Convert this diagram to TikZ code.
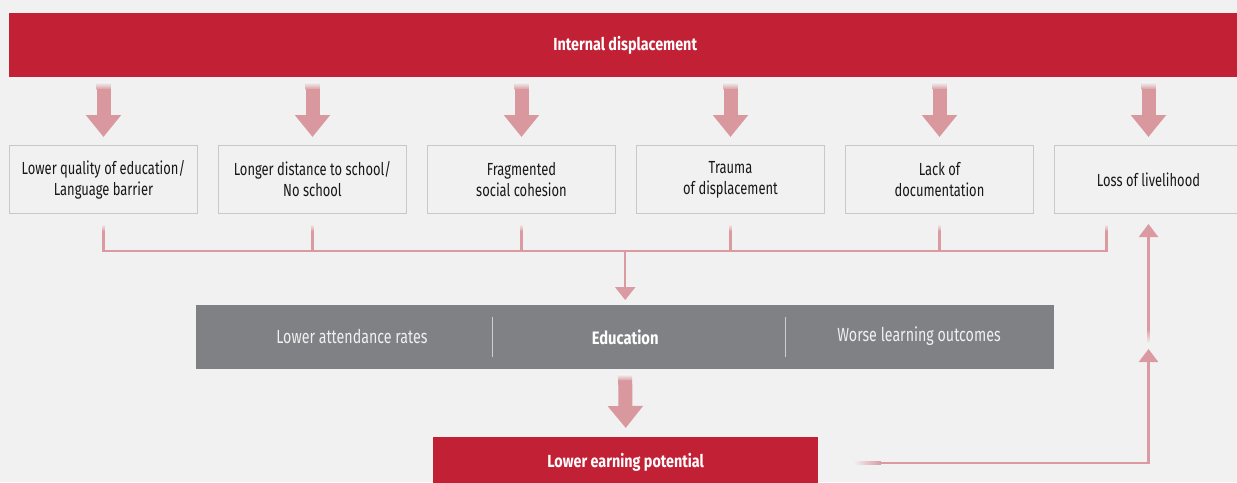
\documentclass[tikz,border=0pt]{standalone}
\usepackage{fontspec}
\setmainfont{Fira Sans}[FakeStretch=0.74]
\newfontfamily\grayfont{Fira Sans}[FakeStretch=0.75]
\newfontfamily\boldfont{Fira Sans}[FakeStretch=0.82]
\usetikzlibrary{arrows.meta,calc}
\definecolor{bg}{HTML}{F1F1F1}
\definecolor{myred}{HTML}{C22035}
\definecolor{mygray}{HTML}{808185}
\definecolor{pinkA}{HTML}{D9979E}
\definecolor{pinkL}{HTML}{DB9AA2}
\definecolor{boxline}{HTML}{C8C8C8}
\definecolor{txt}{HTML}{181818}
\definecolor{ltxt}{HTML}{F0F0F0}
\begin{document}
\begin{tikzpicture}[x=1pt,y=-1pt,
  redbar/.style={fill=myred, inner sep=0pt, anchor=north west},
  redtxt/.style={text=white, font=\boldfont\fontsize{17.5}{20}\selectfont\bfseries, inner sep=0pt},
  causebox/.style={draw=boxline, line width=1pt, fill=bg, text=txt, minimum width=188pt, minimum height=68pt, anchor=north west, align=center, font=\fontsize{17.5}{21}\selectfont, inner sep=0pt},
  graybar/.style={fill=mygray, minimum width=858pt, minimum height=64pt, anchor=north west, inner sep=0pt},
  graytxt/.style={text=ltxt, font=\grayfont\fontsize{19}{22}\selectfont, inner sep=0pt},
  fat/.style={draw=pinkA, line width=14pt, -{Triangle[width=34pt,length=22pt]}},
  conn/.style={draw=pinkL, line width=2.5pt},
  tip/.style={-{Triangle[width=20pt,length=13pt]}},
]
\useasboundingbox (0,0) rectangle (1237,482);
\fill[bg] (0,0) rectangle (1237,482);

% top bar
\node[redbar, minimum width=1232pt, minimum height=64pt] (top) at (9,13) {};
\node[redtxt] (toptxt) at (top.center) {Internal displacement};

% cause boxes
\node[causebox] (b1) at (9,145) {Lower quality of education/\\Language barrier};
\node[causebox] (b2) at (218,145) {Longer distance to school/\\No school};
\node[causebox] (b3) at (427,145) {Fragmented\\social cohesion};
\node[causebox] (b4) at (636,145) {Trauma\\of displacement};
\node[causebox] (b5) at (845,145) {Lack of\\documentation};
\node[causebox] (b6) at (1054,145) {Loss of livelihood};

% fat arrows from top bar
\foreach \b in {b1,b2,b3,b4,b5,b6}{
  \shade[top color=bg, bottom color=pinkA] ($(top.south -| \b.north)+(-7,5)$) rectangle ($(top.south -| \b.north)+(7,12.5)$);
  \draw[fat] ($(top.south -| \b.north)+(0,12)$) -- ($(\b.north)+(0,-8)$);
}

% education bar
\node[graybar] (edu) at (196,305) {};
\node[graytxt] (att) at (352,336) {Lower attendance rates};
\node[graytxt, text=white, font=\boldfont\fontsize{18}{20}\selectfont\bfseries] (edutxt) at (edu.center) {Education};
\node[graytxt] (wlo) at (919,336) {Worse learning outcomes};
\draw[ltxt!70!mygray, line width=1pt] (492,317) -- (492,357);
\draw[ltxt!70!mygray, line width=1pt] (785,317) -- (785,357);

% bottom red box
\node[redbar, minimum width=385pt, minimum height=50pt] (low) at (433,437) {};
\node[redtxt] (lowtxt) at (low.center) {Lower earning potential};

% connectors from boxes
\foreach \b in {b1,b2,b3,b4,b5}{
  \shade[top color=bg, bottom color=pinkL] ($(\b.south)+(-1.25,10)$) rectangle ($(\b.south)+(1.25,17.5)$);
}
\shade[top color=bg, bottom color=pinkL] ($(b6.south)+(-43.25,10)$) rectangle ($(b6.south)+(-40.75,17.5)$);
\draw[conn] ($(b1.south)+(0,17)$) -- ($(b1.south)+(0,37)$) -- ($(b6.south)+(-42,37)$) -- ($(b6.south)+(-42,17)$);
\foreach \b in {b2,b3,b4,b5}{
  \draw[conn] ($(\b.south)+(0,17)$) -- ($(\b.south)+(0,37)$);
}
\draw[conn, tip] ($(edu.north)+(0,-55)$) -- ($(edu.north)+(0,-5)$);

% education to earning
\shade[top color=bg, bottom color=pinkA] ($(edu.south)+(-7,5)$) rectangle ($(edu.south)+(7,11.5)$);
\draw[fat] ($(edu.south)+(0,11)$) -- ($(low.north)+(0,-9)$);

% return line
\shade[left color=bg, right color=pinkL] ($(low.east)+(35,-0.25)$) rectangle ($(low.east)+(62.5,2.25)$);
\draw[conn, -{Triangle[width=19pt,length=13pt]}] ($(low.east)+(62,1)$) -| ($(b6.south)+(0,135)$);
\shade[top color=pinkL, bottom color=bg] ($(b6.south)+(-1.25,115)$) rectangle ($(b6.south)+(1.25,129)$);
\draw[conn, -{Triangle[width=19pt,length=13pt]}] ($(b6.south)+(0,115.5)$) -- ($(b6.south)+(0,10)$);
\end{tikzpicture}
\end{document}
